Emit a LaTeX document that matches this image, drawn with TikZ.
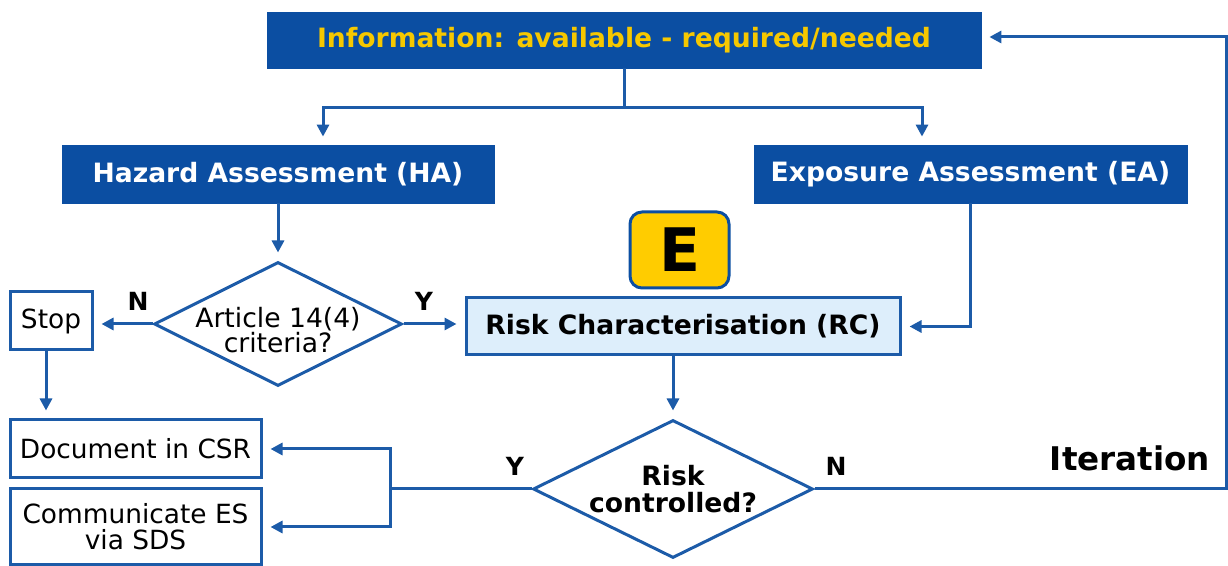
\documentclass[tikz,border=0pt]{standalone}
\usepackage{fontspec}
\setmainfont{DejaVu Sans}
\usepackage{tikz}
\usetikzlibrary{arrows.meta,positioning,calc,shapes.geometric}
\definecolor{eublue}{HTML}{0B4EA2}
\definecolor{lineblue}{HTML}{1C5BA8}
\definecolor{rcfill}{HTML}{DDEEFB}
\definecolor{infoyellow}{HTML}{F6C800}
\definecolor{eyellow}{HTML}{FFCC00}
\tikzset{
  headbox/.style={draw=eublue,fill=eublue,inner sep=0pt,font=\fontsize{13.3}{15}\selectfont\bfseries},
  rcbox/.style={draw=lineblue,line width=1.5pt,fill=rcfill,inner sep=0pt,
    font=\fontsize{13.3}{15}\selectfont\bfseries},
  outbox/.style={draw=lineblue,line width=1.5pt,fill=white,inner sep=0pt,align=center,
    font=\fontsize{13.2}{13}\selectfont},
  decision/.style={diamond,draw=lineblue,line width=1.5pt,fill=white,inner sep=0pt,align=center},
  yn/.style={font=\fontsize{12.5}{14}\selectfont\bfseries},
  flow/.style={-{Triangle[length=6pt,width=6pt]},draw=lineblue,line width=1.5pt,shorten >=4pt},
  plain/.style={draw=lineblue,line width=1.5pt}
}
\begin{document}
\begin{tikzpicture}[x=0.5pt,y=-0.5pt]
\useasboundingbox (0,0) rectangle (1228,566);

\node[headbox,text=infoyellow,minimum width=357pt,minimum height=28pt] (info) at (624,40)
  {Information: available - required/needed};
\node[headbox,text=white,minimum width=216pt,minimum height=29pt] (ha) at (278,174)
  {Hazard Assessment (HA)};
\node[headbox,text=white,minimum width=216.5pt,minimum height=29pt] (ea) at (970.5,174)
  {Exposure Assessment (EA)};

\node[decision,minimum width=124pt,minimum height=62pt,
  label={[font=\fontsize{13.3}{12.5}\selectfont,align=center,yshift=-3pt]center:Article 14(4)\\criteria?}]
  (art) at (278,324) {};
\node[outbox,minimum width=41pt,minimum height=29pt] (stop) at (51,321) {Stop};

\node[draw=eublue,line width=1.5pt,fill=eyellow,rounded corners=6pt,inner sep=0pt,
  minimum width=49.5pt,minimum height=38pt,font=\fontsize{30}{30}\selectfont\bfseries]
  (ebox) at (679.5,250) {E};
\node[rcbox,minimum width=217pt,minimum height=28.5pt] (rc) at (683,326.5)
  {Risk Characterisation (RC)};

\node[decision,minimum width=140pt,minimum height=69pt,
  label={[font=\fontsize{13.3}{13.5}\selectfont\bfseries,align=center]center:Risk\\controlled?}]
  (ctrl) at (673,489) {};

\node[outbox,minimum width=125.5pt,minimum height=29pt] (csr) at (135.5,449)
  {Document in CSR};
\node[outbox,minimum width=125.5pt,minimum height=38pt] (sds) at (135.5,527)
  {Communicate ES\\via SDS};

\node[yn] (artn) at (138,301) {N};
\node[yn] (arty) at (424,301) {Y};
\node[yn] (ctrly) at (515,466) {Y};
\node[yn] (ctrln) at (836,466) {N};
\node[font=\fontsize{16.3}{18}\selectfont\bfseries] (iter) at (1130,458) {Iteration};

\coordinate (split) at (624,108);
\coordinate (yjoin) at (390,489);
\coordinate (loop) at (1226,489);

\draw[plain] (info.south) -- (split);
\draw[flow] (split) -| ([xshift=22.5pt]ha.north);
\draw[flow] (split) -| ([xshift=-24.25pt]ea.north);
\draw[flow] (ha.south) -- (art.north);
\draw[flow] (art.west) -- (art.west -| stop.east);
\draw[flow] (art.east) -- (art.east -| rc.west);
\draw[flow] (ea.south) |- (rc.east);
\draw[flow] (rc.south -| ctrl.north) -- (ctrl.north);
\draw[flow] ([xshift=-2.5pt]stop.south) -- ([xshift=-2.5pt]stop.south |- csr.north);
\draw[plain] (ctrl.west) -- (yjoin);
\draw[flow] (yjoin) |- (csr.east);
\draw[flow] (yjoin) |- (sds.east);
\draw[flow] (ctrl.east) -- (loop) |- ([yshift=1.5pt]info.east);
\end{tikzpicture}
\end{document}
